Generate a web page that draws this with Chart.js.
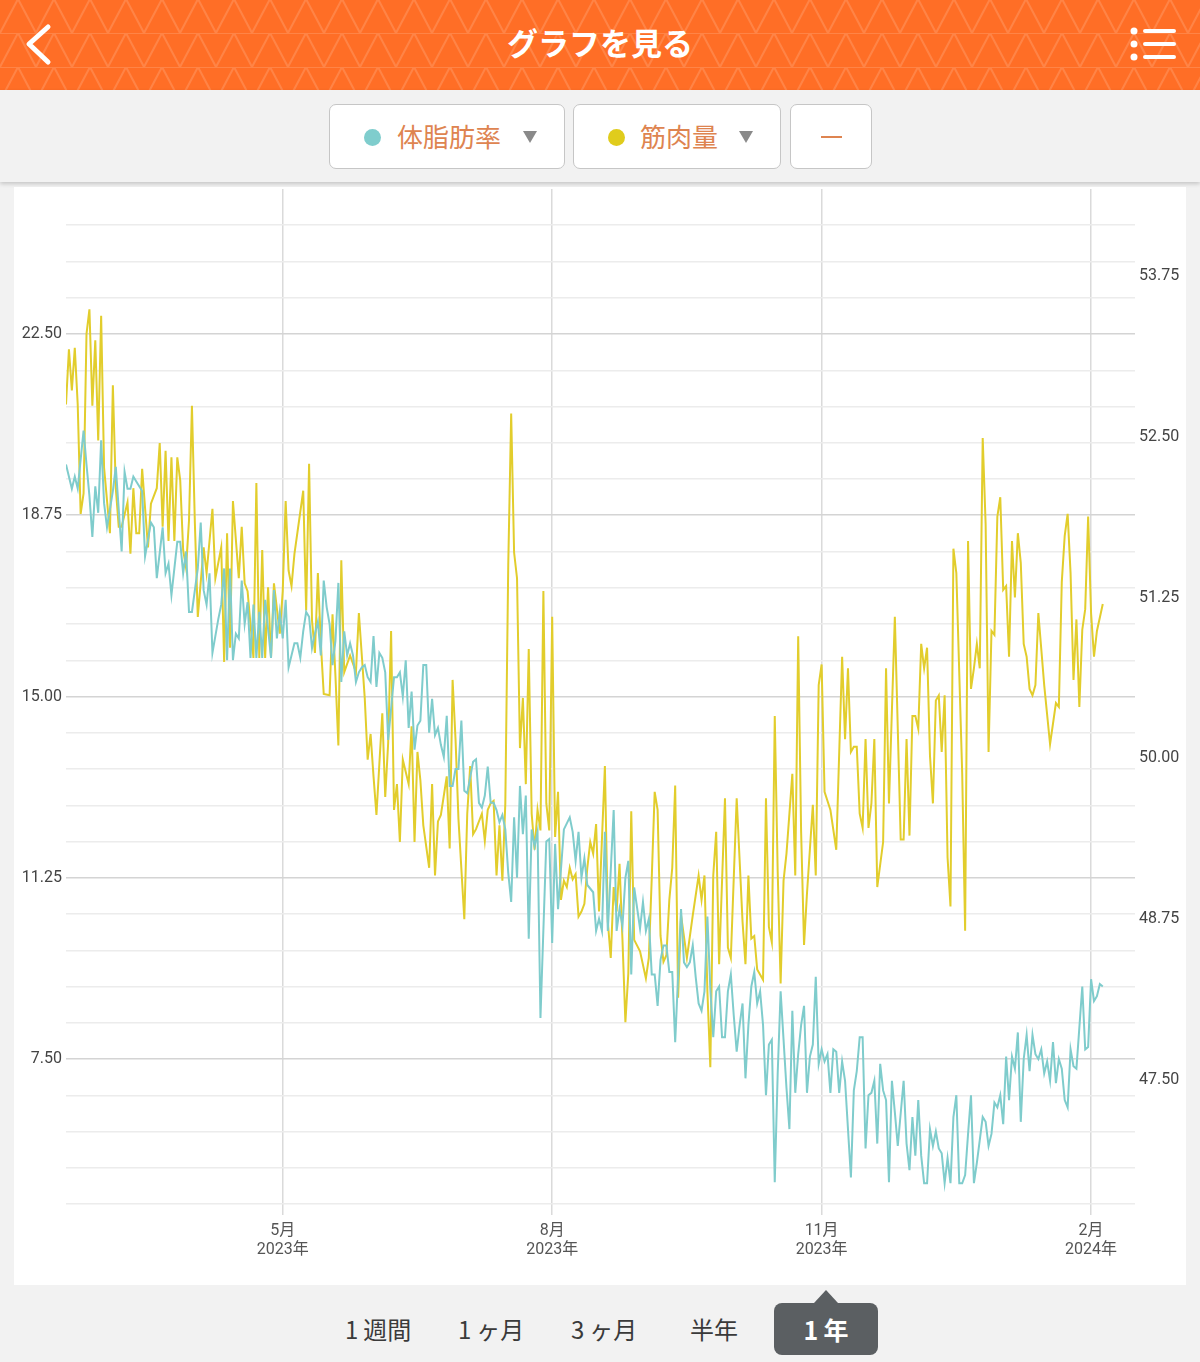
<!DOCTYPE html>
<html lang="ja">
<head>
<meta charset="utf-8">
<title>グラフを見る</title>
<script src="https://cdn.jsdelivr.net/npm/chart.js@4.4.0/dist/chart.umd.min.js"></script>
<style>
  html, body { margin: 0; padding: 0; }
  body {
    width: 1200px; height: 1362px; position: relative; overflow: hidden;
    background: #f2f2f2;
    font-family: "Noto Sans CJK JP", "Noto Sans", Roboto, sans-serif;
  }
  .header {
    position: absolute; left: 0; top: 0; width: 1200px; height: 90px;
    background-color: #ff6e26;
    background-image: url("data:image/svg+xml;utf8,<svg xmlns='http://www.w3.org/2000/svg' width='36' height='34'><path d='M0 34 L18 0 L36 34 M0 0 H36' stroke='%23ffffff' stroke-opacity='0.15' stroke-width='2' fill='none'/></svg>");
    background-position: 0 -1px;
  }
  .title {
    position: absolute; left: 0; width: 1200px; top: 20px; text-align: center;
    color: #fff; font-size: 31px; font-weight: bold; line-height: 44px;
  }
  .icon { position: absolute; }
  .filterbar {
    position: absolute; left: 0; top: 90px; width: 1200px; height: 92px;
    background: #f2f2f2; box-shadow: 0 2px 4px rgba(0,0,0,0.18);
  }
  .btn {
    position: absolute; top: 14px; height: 65px; background: #fff;
    border: 1px solid #c6c6c6; border-radius: 7px; box-sizing: border-box;
  }
  .dot { position: absolute; top: 24px; width: 17px; height: 17px; border-radius: 50%; }
  .btxt { position: absolute; top: 12px; font-size: 26px; line-height: 38px; color: #de8450; }
  .tri {
    position: absolute; top: 26px; width: 0; height: 0;
    border-left: 7px solid transparent; border-right: 7px solid transparent;
    border-top: 12px solid #8a8a8a;
  }
  .card {
    position: absolute; left: 14px; top: 187px; width: 1172px; height: 1098px;
    background: #fff;
  }
  .tab {
    position: absolute; top: 1311px; font-size: 24px; line-height: 36px; color: #3a3a3a;
  }
  .tab span, .sel span { margin-right: 5px; }
  .sel {
    position: absolute; left: 774px; top: 1303px; width: 104px; height: 52px;
    background: #5b5f62; border-radius: 8px; color: #fff; text-align: center;
    font-size: 25px; font-weight: bold; line-height: 52px;
  }
  .sel:before {
    content: ""; position: absolute; left: 40px; top: -13px; width: 0; height: 0;
    border-left: 12px solid transparent; border-right: 12px solid transparent;
    border-bottom: 13px solid #5b5f62;
  }
</style>
</head>
<body>
<div class="header">
  <svg class="icon" style="left:20px;top:20px" width="40" height="50">
    <polyline points="28,7 9,24 28,42" fill="none" stroke="#fff" stroke-width="5" stroke-linecap="round" stroke-linejoin="round"/>
  </svg>
  <div class="title">グラフを見る</div>
  <svg class="icon" style="left:1125px;top:22px" width="56" height="44">
    <circle cx="9" cy="9" r="3.5" fill="#fff"/>
    <circle cx="9" cy="22" r="3.5" fill="#fff"/>
    <circle cx="9" cy="35" r="3.5" fill="#fff"/>
    <path d="M20 9 H49 M20 22 H49 M20 35 H49" stroke="#fff" stroke-width="4" stroke-linecap="round"/>
  </svg>
</div>

<div class="filterbar">
  <div class="btn" style="left:329px;width:236px">
    <div class="dot" style="left:34px;background:#7fcdcd"></div>
    <div class="btxt" style="left:67px">体脂肪率</div>
    <div class="tri" style="left:193px"></div>
  </div>
  <div class="btn" style="left:573px;width:208px">
    <div class="dot" style="left:34px;background:#e0cc1c"></div>
    <div class="btxt" style="left:66px">筋肉量</div>
    <div class="tri" style="left:165px"></div>
  </div>
  <div class="btn" style="left:790px;width:82px">
    <div style="position:absolute;left:30px;top:31px;width:21px;height:2px;background:#de8450"></div>
  </div>
</div>

<div class="card"><canvas id="chart"></canvas></div>

<div class="tab" style="left:345px"><span>1</span>週間</div>
<div class="tab" style="left:458px"><span>1</span>ヶ月</div>
<div class="tab" style="left:571px"><span>3</span>ヶ月</div>
<div class="tab" style="left:690px">半年</div>
<div class="sel"><span>1</span>年</div>

<script>
// one value per day, day 0 = 2023-02-16; null = no measurement that day
var fatPct = [
  // Feb 16 - May 20
  19.8, null, 19.3, 19.55, 19.3, 19.9, 20.5, 19.8, 19.15, 18.3,
  19.35, 18.8, 20.3, 19.0, 18.5, null, 19.25, 19.75, null, 18.0,
  19.65, 19.3, 19.3, 19.55, 19.45, null, 19.25, 17.9, null, 18.6,
  18.5, 17.45, null, 18.5, 17.55, 17.75, 17.1, null, 18.2, 18.2,
  17.55, 18.0, 16.75, 16.75, null, 17.65, 18.6, 17.2, 16.9, 17.55,
  15.9, null, 16.6, 16.9, 17.65, 15.75, 17.65, 15.75, 16.3, 16.2,
  17.4, 16.5, 16.95, 15.8, 16.9, 15.8, 16.75, 15.8, 17.0, 16.4,
  15.8, 17.2, 16.2, 16.75, 16.2, 17.0, 15.6, null, 16.1, 16.1,
  15.8, 16.35, 16.75, 16.65, 16.0, 16.3, 16.55, 15.85, 17.4, 16.85,
  16.5, 15.65, 16.15, 17.35,
  // May 21 - Aug 14
  15.3, 16.35, 15.85, 16.1, 15.85, 15.3, 15.5, 15.6, 15.65, 15.4,
  15.3, 16.25, 15.2, 15.9, 15.8, 15.5, 14.1, null, 15.4, 15.4,
  15.5, 15.0, 15.75, 14.35, 15.1, 13.9, 14.4, 14.5, 15.65, 15.65,
  14.25, 14.95, 14.2, 14.35, 14.0, 13.75, 14.6, 13.15, 13.15, 13.5,
  13.5, 14.5, 13.05, 13.0, null, 13.65, 13.7, 12.8, 12.7, 12.95,
  13.55, 12.8, 12.8, 12.65, 12.4, 12.55, 12.25, 11.35, 10.75, 12.5,
  11.25, 13.15, 12.15, 12.95, 9.99, 12.25, 11.9, 12.2, 8.35,
  null, 12.0, 12.05, 9.9, 11.95, 10.6, null, 12.25, null, 12.5,
  12.2, 11.6, 12.2, 11.25, 11.65, 11.1, null,
  // Aug 15 - Nov 8
  10.95, 10.15, 10.4, 10.15, 12.2, 10.15, 11.4, 12.65, 10.15, 10.6,
  10.25, 11.25, 11.6, 9.25, 11.05, null, 10.2, 10.75, 10.15, 10.4,
  9.25, 9.25, 8.6, 9.55, 9.85, 9.85, 9.3, 9.3, 7.85, null,
  10.6, 9.5, 9.4, 9.5, 9.85, 9.2, 8.65, 8.5, 8.9, 10.45,
  8.95, 7.95, 8.9, 9.0, 7.95, 7.95, 8.9, 9.25, 8.4, 7.65,
  8.2, 8.65, 7.1, 8.2, 9.0, 9.3, 8.65, 8.9, 8.2, 6.75,
  7.8, 7.9, 4.95,
  7.2, 8.9, 7.9, 6.9, 6.05, 8.5, 6.8, 7.6, 8.2, 8.6,
  6.8, 7.55, 7.8, 9.2, 7.4, 7.7, 7.45, 7.6, 6.8, 7.7,
  7.65, 6.8, 7.45,
  // Nov 9 - Feb 5
  7.05, null,
  5.05, 6.85, 7.25, 7.95, 7.95, 5.65, 6.75, 6.8, 7.05, 5.75,
  7.4, 6.85, 6.65, 4.95, 7.05, 6.4, 5.7, null, 7.05, 5.75,
  5.2, 6.3, 5.5, 6.65, 5.5, 4.93, 4.93, 6.05, 5.7, 6.0,
  5.65, 5.55, 4.93, 5.45, 4.93, 6.3, 6.75, 4.93, 4.93,
  5.1, 5.95, 6.75, 4.93, 5.35, null, 6.3, 6.2, 5.7, 5.95,
  6.6, 6.5, 6.75, 6.15, 7.55, 6.65, 7.55, 7.3, 8.05, 6.2,
  7.5, 8.0, 7.25, 8.0, 7.6, 7.5, 7.7, 7.2, 7.45, 7.05,
  7.85, 7.0, 7.5, 7.3, 6.65, 6.5, 7.7, 7.35, 7.3, null,
  9.0, 7.7, 7.75, 9.15, 8.7, 8.8, 9.05, 9.0
];

var muscleKg = [
  // Feb 16 - May 16
  52.75, 53.18, 52.86, 53.19, 52.75, 51.9, 52.06, 53.3, 53.49, 52.74,
  53.25, 52.47, 53.44, 52.26, null, 51.75, 52.9, 52.1, 51.8, 51.8,
  null, 51.99, 51.59, 52.1, 51.75, 51.75, 52.25, null, 51.64, 51.98,
  null, 52.1, 52.45, 51.8, 52.39, 51.69, 52.34, 51.69, 52.34, 52.16,
  51.62, 51.48, 51.85, 52.74, 51.83, 51.1, null, 51.64, 51.44, null,
  51.94, 51.4, null, 51.64, 50.75, 51.75, 50.86, 52.0, null, 51.4,
  51.8, 51.36, 51.3, null, 50.78, 52.14, 50.78, 51.62, 50.78, 51.33,
  50.78, 51.36, null, 50.97, 51.3, 52.0, 51.46, 51.34, 51.59, null,
  null, 52.08, 51.15, 52.29, 51.07, 50.82, 51.44, 50.9, 50.5, null,
  // May 17 - Aug 14
  50.49,
  51.12, 50.64, 50.1, 51.54, 50.67, null, 50.8, null, 50.67, 51.13, 50.8, 50.47,
  49.99, 50.19, 49.86, 49.56, 49.96, 50.35, 49.7, 50.12, 50.99, 49.6,
  49.8, 49.35, 49.99, null, 49.8, 50.25, 49.35, 50.05, 49.83, 49.48, null, 49.15,
  49.8, 49.09, 49.51, 49.56, null, 49.86, 49.3, 50.61, 50.15, 49.53, null, 48.75,
  49.57, 49.94, 49.41, 49.45, null, 49.57, 49.36, 49.6, 49.65, 49.67, 49.09,
  49.48, 49.05, 49.65, 51.5, 52.68,
  51.6, 51.4, 50.08, 50.47, 49.8, 50.85, 49.57, 49.29, 49.6, 49.44,
  51.3, 49.65, 49.44, 51.1, 49.39, 49.74, 48.9, 49.05, 49.0, 49.15,
  49.06, 49.1, 48.77, 48.81, 48.87, 49.15, 49.35,
  // Aug 15 - Nov 8
  49.26, 49.49, 48.81, null, 49.94, 48.73, 48.45, 49.0, 48.81, 49.18, 48.59,
  47.95,
  48.33, 49.59, 48.59, null, 48.5, null, 48.29, 48.45, 49.07, 49.74,
  49.6, 48.62, 48.42, 48.47, 48.9, 49.15, 49.79, 48.14, 48.78, null,
  48.45, null, 48.78, null, 49.09, 48.9, 49.09, 48.19,
  47.6,
  49.09, 49.43, 48.4, null, 49.69, 48.53, 48.45, null, 49.69, null,
  48.73, 48.4, 49.09, 48.6, 48.62, 48.36, null, 48.28, 49.69, 48.69,
  48.57, 50.33, 49.12, 48.25, 49.05, 49.26, null, 49.88, 49.09,
  50.95,
  49.43, 48.55, 48.95, null, 49.64, 49.09, 50.57, 50.73, 49.74, null,
  49.6, null, 49.29, null, 50.79,
  // Nov 9 - Feb 5
  50.15, 50.7, 50.05, 50.09, 50.09, 49.57, 49.46, 50.15, 49.46, 49.65,
  50.15, 49.0, null, 49.35, 50.7, 49.65, null, 51.1, null, 49.37, 49.37, 50.15, 49.4,
  50.33, 50.33, 50.23, 50.89, 50.7, 50.86, 50.02, 49.65, 50.45, 50.49,
  50.05, 50.49, 49.23, 48.85, 51.63, 51.44, null, 49.88, 48.66, 51.69, 50.54,
  50.7, 50.89, 50.7, 52.49, 51.82, 50.05, 50.99, 50.96, 51.88, 52.03,
  51.31, 51.34, 50.79, 51.69, 51.25, 51.75, 51.52, 50.89, 50.79, 50.54,
  50.49, 50.57, 51.13, null, 50.57, null, 50.11, null, 50.43, 50.4, 51.37, 51.73, 51.9,
  51.44, 50.61, 51.08, 50.4, 51.0, 51.16, 51.88, 51.13, 50.79, 50.99, null,
  51.2
];

// day index of the first of each labelled month
var monthTicks = [74, 166, 258, 350];
var monthLabels = [['5月', '2023年'], ['8月', '2023年'], ['11月', '2023年'], ['2月', '2024年']];
var muscleTicks = [47.5, 48.75, 50, 51.25, 52.5, 53.75];

function toPoints(arr) {
  return arr.map(function (v, i) { return { x: i, y: v }; });
}

function isMajor(v) {
  var r = v / 3.75;
  return Math.abs(r - Math.round(r)) < 1e-6;
}

// y axes should not push the plot area in for their label heights
function noVertPadding(scale, w) {
  scale.width = w;
  scale.paddingTop = 0;
  scale.paddingBottom = 0;
}

var ctx = document.getElementById('chart').getContext('2d');
var chart = new Chart(ctx, {
  type: 'line',
  data: {
    datasets: [{
      label: '体脂肪率',
      data: toPoints(fatPct),
      yAxisID: 'yFat',
      borderColor: '#7fcccc',
      borderWidth: 2,
      pointRadius: 0,
      spanGaps: true,
      tension: 0
    }, {
      label: '筋肉量',
      data: toPoints(muscleKg),
      yAxisID: 'yMuscle',
      borderColor: '#e2cd2c',
      borderWidth: 2,
      pointRadius: 0,
      spanGaps: true,
      tension: 0
    }]
  },
  options: {
    responsive: true,
    maintainAspectRatio: false,
    animation: false,
    layout: { padding: { top: 2, left: 0, right: 0, bottom: 0 } },
    plugins: { legend: { display: false }, tooltip: { enabled: false } },
    scales: {
      x: {
        type: 'linear',
        min: 0,
        max: 365,
        afterBuildTicks: function (scale) {
          scale.ticks = monthTicks.map(function (v) { return { value: v }; });
        },
        afterFit: function (scale) { scale.height = 81; },
        ticks: {
          maxRotation: 0,
          padding: 6,
          color: '#555',
          font: { family: 'Roboto, "Noto Sans CJK JP"', size: 16 },
          callback: function (value) {
            var i = monthTicks.indexOf(value);
            return i < 0 ? '' : monthLabels[i];
          }
        },
        grid: { color: '#dadada', lineWidth: 1.5, tickLength: 11 },
        border: { display: false }
      },
      yFat: {
        position: 'left',
        min: 4.5,
        max: 25.5,
        afterFit: function (scale) { noVertPadding(scale, 52); },
        ticks: {
          stepSize: 0.75,
          autoSkip: false,
          padding: 4,
          color: '#444',
          font: { family: 'Roboto', size: 16 },
          callback: function (value) { return isMajor(value) ? value.toFixed(2) : ''; }
        },
        grid: {
          drawTicks: false,
          lineWidth: 1.5,
          color: function (c) {
            if (!c.tick || c.tick.value >= 25.5) return 'rgba(0,0,0,0)';
            return isMajor(c.tick.value) ? '#d4d4d4' : '#ececec';
          }
        },
        border: { display: false }
      },
      yMuscle: {
        position: 'right',
        min: 46.537,
        max: 54.425,
        afterBuildTicks: function (scale) {
          scale.ticks = muscleTicks.map(function (v) { return { value: v }; });
        },
        afterFit: function (scale) { noVertPadding(scale, 51); },
        ticks: {
          padding: 4,
          color: '#444',
          font: { family: 'Roboto', size: 16 },
          callback: function (value) { return value.toFixed(2); }
        },
        grid: { display: false, drawTicks: false },
        border: { display: false }
      }
    }
  }
});
</script>
</body>
</html>
